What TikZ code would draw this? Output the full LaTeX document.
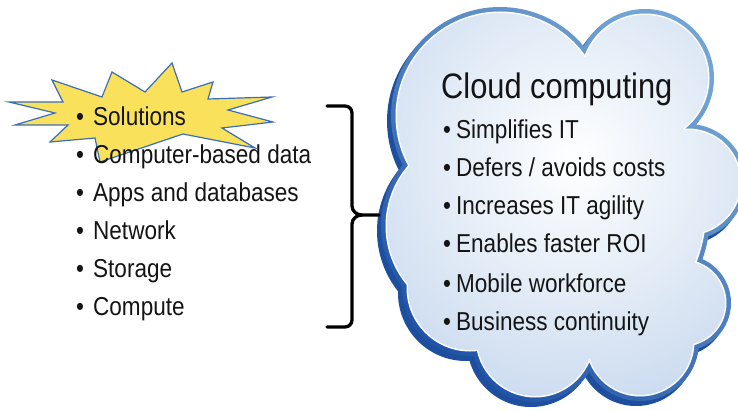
\documentclass[tikz,border=0pt]{standalone}
\usepackage{fontspec}
\setmainfont{Liberation Sans}[FakeStretch=0.87]
\definecolor{rimdark}{RGB}{32,82,165}
\definecolor{rimlight}{RGB}{115,165,212}
\definecolor{shadowblue}{RGB}{30,78,160}
\definecolor{cloudedge}{RGB}{172,198,230}
\definecolor{staryellow}{RGB}{250,225,92}
\definecolor{starline}{RGB}{60,110,180}
\definecolor{txt}{RGB}{20,20,20}
\newcommand{\cloudc}[1]{%
  (500,116) circle[radius=103+#1]
  (645,78) circle[radius=63+#1]
  (688,182) circle[radius=52+#1]
  (683,303) circle[radius=42+#1]
  (640,342) circle[radius=53+#1]
  (535,338) circle[radius=58+#1]
  (470,288) circle[radius=62+#1]
  (478,226) circle[radius=91+#1]
  (560,208) ellipse[x radius=145+#1, y radius=148+#1]}
\tikzset{
  item/.style={anchor=base west, inner sep=0pt, text=txt,
    font=\fontsize{25.9}{30}\selectfont},
  title/.style={anchor=base west, inner sep=0pt, text=txt,
    font=\fontsize{35.4}{40}\selectfont},
  braceline/.style={line width=3.3pt, black, line cap=round, line join=round},
  star/.style={fill=staryellow, draw=starline, line width=1.2pt, line join=miter}
}
\newcommand{\lb}{\makebox[17pt][l]{•}}
\newcommand{\rb}{\makebox[13pt][l]{•}}
\begin{document}
\begin{tikzpicture}[x=1pt,y=-1pt]
\useasboundingbox (0,0) rectangle (738,411);
\fill[white] (0,0) rectangle (738,411);

% cloud shadow
\begin{scope}[shift={(-4,5)}]
  \fill[shadowblue] \cloudc{6};
\end{scope}
% cloud rim
\begin{scope}
  \clip \cloudc{6};
  \shade[bottom color=rimdark, top color=rimlight, shading angle=-40]
    (380,0) rectangle (740,411);
\end{scope}
% thin white line
\fill[white] \cloudc{1.5};
% cloud interior
\begin{scope}
  \clip \cloudc{0};
  \shade[inner color=white, outer color=cloudedge] (575,160) circle[radius=400];
\end{scope}

% starburst
\path[star] (9,102) -- (63,102) -- (52,80) -- (102,97) -- (112,72) -- (145,92)
  -- (172,63) -- (182,92) -- (213,82) -- (208,99) -- (272,97) -- (228,110)
  -- (273,122) -- (222,128) -- (255,148) -- (183,134) -- (100,162)
  -- (95,138) -- (50,142) -- (68,125) -- (15,125) -- (55,113) -- cycle;

% left list
\node[item] (l1) at (76,126) {\lb Solutions};
\node[item] (l2) at (76,164) {\lb Computer-based data};
\node[item] (l3) at (76,202) {\lb Apps and databases};
\node[item] (l4) at (76,240) {\lb Network};
\node[item] (l5) at (76,278) {\lb Storage};
\node[item] (l6) at (76,316) {\lb Compute};

% brace
\coordinate (btop) at (327,106);
\coordinate (bbot) at (327,327);
\coordinate (bmid) at (362,215);
\coordinate (btip) at (379,215);
\draw[braceline] (btop) -- (345,106) to[out=0,in=90] (352,113) -- (352,206)
  to[out=-90,in=180] (bmid) -- (btip);
\draw[braceline] (bmid) to[out=180,in=90] (352,224) -- (352,320)
  to[out=-90,in=0] (345,327) -- (bbot);

% cloud text
\node[title] (ct) at (441,99) {Cloud computing};
\node[item] (r1) at (443,139) {\rb Simplifies IT};
\node[item] (r2) at (443,177) {\rb Defers / avoids costs};
\node[item] (r3) at (443,215) {\rb Increases IT agility};
\node[item] (r4) at (443,253) {\rb Enables faster ROI};
\node[item] (r5) at (443,292) {\rb Mobile workforce};
\node[item] (r6) at (443,330) {\rb Business continuity};
\end{tikzpicture}
\end{document}
